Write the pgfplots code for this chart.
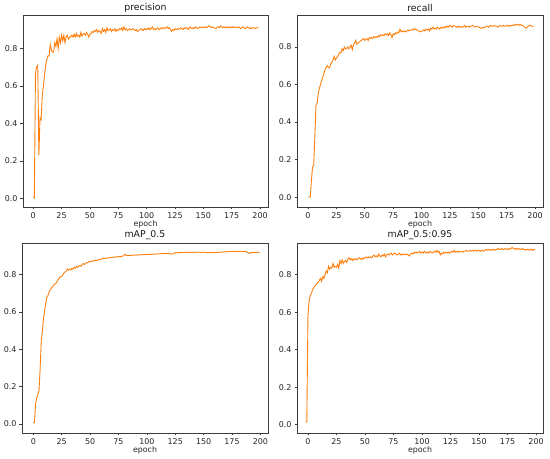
\documentclass[border=0pt]{standalone}
\usepackage{fontspec}
\setmainfont{DejaVu Sans}
\usepackage{pgfplots}
\usepackage{pgfplotstable}
\pgfplotsset{compat=1.18}
\definecolor{mplorange}{RGB}{255,127,14}
\definecolor{spine}{RGB}{60,60,60}

\pgfplotstableread[row sep=\\]{y\\
0.004\\0.003\\0.67\\0.70\\0.71\\0.23\\0.43\\0.42\\0.55\\0.60\\
0.66\\0.71\\0.74\\0.76\\0.76\\0.82\\0.79\\0.78\\0.78\\0.83\\
0.81\\0.85\\0.80\\0.86\\0.83\\0.87\\0.84\\0.87\\0.83\\0.86\\
0.87\\0.85\\0.86\\0.86\\0.87\\0.86\\0.875\\0.86\\0.88\\0.865\\
0.87\\0.86\\0.885\\0.865\\0.875\\0.88\\0.87\\0.885\\0.875\\0.86\\
0.875\\0.88\\0.89\\0.885\\0.895\\0.89\\0.90\\0.885\\0.895\\0.89\\
0.88\\0.905\\0.89\\0.90\\0.885\\0.91\\0.895\\0.90\\0.905\\0.89\\
0.90\\0.895\\0.905\\0.89\\0.90\\0.895\\0.905\\0.90\\0.91\\0.895\\
0.915\\0.90\\0.905\\0.895\\0.90\\0.905\\0.90\\0.90\\0.905\\0.90\\
0.895\\0.90\\0.89\\0.895\\0.90\\0.905\\0.90\\0.895\\0.905\\0.90\\
0.905\\0.90\\0.91\\0.90\\0.905\\0.915\\0.90\\0.905\\0.90\\0.905\\
0.91\\0.90\\0.905\\0.91\\0.905\\0.91\\0.905\\0.91\\0.915\\0.905\\
0.91\\0.90\\0.89\\0.90\\0.895\\0.905\\0.90\\0.905\\0.90\\0.905\\
0.91\\0.905\\0.90\\0.91\\0.905\\0.91\\0.905\\0.90\\0.915\\0.91\\
0.905\\0.91\\0.905\\0.915\\0.91\\0.905\\0.91\\0.915\\0.91\\0.91\\
0.915\\0.91\\0.915\\0.91\\0.915\\0.92\\0.915\\0.91\\0.915\\0.91\\
0.91\\0.905\\0.91\\0.915\\0.91\\0.92\\0.915\\0.91\\0.915\\0.91\\
0.915\\0.91\\0.915\\0.91\\0.915\\0.91\\0.915\\0.91\\0.915\\0.91\\
0.91\\0.915\\0.91\\0.905\\0.91\\0.915\\0.91\\0.905\\0.91\\0.915\\
0.91\\0.905\\0.91\\0.905\\0.91\\0.91\\0.905\\0.91\\0.91\\0.91\\
}\precisiontab

\pgfplotstableread[row sep=\\]{y\\
0.0\\0.0\\0.002\\0.09\\0.16\\0.17\\0.32\\0.49\\0.50\\0.55\\
0.58\\0.60\\0.62\\0.64\\0.66\\0.68\\0.69\\0.70\\0.69\\0.69\\
0.71\\0.72\\0.73\\0.75\\0.73\\0.74\\0.75\\0.76\\0.77\\0.77\\
0.79\\0.78\\0.80\\0.79\\0.79\\0.80\\0.79\\0.80\\0.81\\0.785\\
0.81\\0.82\\0.835\\0.815\\0.82\\0.825\\0.83\\0.835\\0.84\\0.845\\
0.835\\0.84\\0.845\\0.835\\0.85\\0.845\\0.85\\0.845\\0.855\\0.85\\
0.855\\0.85\\0.86\\0.855\\0.865\\0.86\\0.865\\0.86\\0.87\\0.865\\
0.87\\0.86\\0.875\\0.865\\0.85\\0.87\\0.865\\0.875\\0.87\\0.88\\
0.875\\0.895\\0.88\\0.885\\0.88\\0.885\\0.88\\0.885\\0.89\\0.885\\
0.89\\0.89\\0.895\\0.89\\0.895\\0.895\\0.89\\0.885\\0.885\\0.88\\
0.885\\0.885\\0.89\\0.885\\0.895\\0.89\\0.895\\0.885\\0.90\\0.895\\
0.905\\0.895\\0.90\\0.895\\0.905\\0.90\\0.895\\0.905\\0.90\\0.905\\
0.90\\0.91\\0.905\\0.91\\0.905\\0.915\\0.91\\0.905\\0.915\\0.91\\
0.91\\0.905\\0.91\\0.905\\0.91\\0.905\\0.905\\0.91\\0.915\\0.905\\
0.91\\0.91\\0.905\\0.91\\0.91\\0.915\\0.91\\0.905\\0.91\\0.91\\
0.905\\0.905\\0.90\\0.90\\0.905\\0.90\\0.905\\0.91\\0.91\\0.905\\
0.91\\0.915\\0.91\\0.91\\0.915\\0.91\\0.91\\0.905\\0.91\\0.915\\
0.91\\0.91\\0.915\\0.91\\0.91\\0.915\\0.91\\0.915\\0.91\\0.915\\
0.915\\0.915\\0.92\\0.915\\0.92\\0.92\\0.915\\0.92\\0.915\\0.915\\
0.91\\0.905\\0.90\\0.905\\0.91\\0.915\\0.915\\0.91\\0.91\\0.91\\
}\recalltab

\pgfplotstableread[row sep=\\]{y\\
0.005\\0.01\\0.11\\0.14\\0.16\\0.18\\0.30\\0.45\\0.50\\0.57\\
0.61\\0.65\\0.68\\0.69\\0.71\\0.72\\0.73\\0.735\\0.745\\0.75\\
0.755\\0.765\\0.775\\0.785\\0.79\\0.79\\0.80\\0.81\\0.815\\0.82\\
0.83\\0.825\\0.83\\0.825\\0.835\\0.83\\0.84\\0.835\\0.845\\0.84\\
0.845\\0.85\\0.845\\0.855\\0.86\\0.855\\0.86\\0.865\\0.865\\0.87\\
0.87\\0.872\\0.875\\0.872\\0.875\\0.878\\0.875\\0.88\\0.882\\0.88\\
0.885\\0.885\\0.888\\0.886\\0.89\\0.889\\0.891\\0.89\\0.893\\0.892\\
0.894\\0.895\\0.893\\0.896\\0.897\\0.895\\0.898\\0.897\\0.899\\0.90\\
0.905\\0.91\\0.902\\0.903\\0.902\\0.904\\0.903\\0.905\\0.904\\0.905\\
0.906\\0.905\\0.906\\0.907\\0.906\\0.907\\0.908\\0.907\\0.908\\0.909\\
0.908\\0.909\\0.908\\0.91\\0.909\\0.91\\0.911\\0.91\\0.911\\0.912\\
0.911\\0.912\\0.913\\0.912\\0.913\\0.913\\0.914\\0.913\\0.914\\0.915\\
0.913\\0.912\\0.91\\0.912\\0.915\\0.918\\0.917\\0.918\\0.919\\0.918\\
0.919\\0.92\\0.919\\0.92\\0.919\\0.92\\0.921\\0.92\\0.919\\0.92\\
0.921\\0.92\\0.919\\0.92\\0.921\\0.92\\0.921\\0.92\\0.919\\0.92\\
0.921\\0.92\\0.919\\0.918\\0.919\\0.918\\0.919\\0.92\\0.919\\0.918\\
0.919\\0.92\\0.919\\0.92\\0.921\\0.92\\0.921\\0.922\\0.923\\0.922\\
0.923\\0.924\\0.923\\0.924\\0.925\\0.924\\0.925\\0.924\\0.925\\0.924\\
0.925\\0.924\\0.925\\0.926\\0.925\\0.924\\0.925\\0.924\\0.922\\0.918\\
0.914\\0.917\\0.919\\0.918\\0.92\\0.919\\0.92\\0.919\\0.92\\0.92\\
}\mapfivetab

\pgfplotstableread[row sep=\\]{y\\
0.015\\0.015\\
0.58\\0.66\\0.69\\0.70\\0.72\\0.73\\0.74\\0.745\\0.755\\0.76\\
0.77\\0.78\\0.765\\0.79\\0.78\\0.80\\0.82\\0.81\\0.845\\0.83\\
0.84\\0.835\\0.86\\0.84\\0.845\\0.84\\0.855\\0.835\\0.875\\0.86\\
0.88\\0.86\\0.87\\0.875\\0.865\\0.885\\0.89\\0.88\\0.885\\0.875\\
0.885\\0.88\\0.885\\0.88\\0.885\\0.89\\0.885\\0.88\\0.89\\0.885\\
0.89\\0.895\\0.89\\0.895\\0.89\\0.895\\0.89\\0.90\\0.905\\0.895\\
0.90\\0.895\\0.91\\0.90\\0.895\\0.905\\0.90\\0.91\\0.895\\0.905\\
0.91\\0.905\\0.91\\0.915\\0.905\\0.91\\0.915\\0.91\\0.905\\0.91\\
0.915\\0.905\\0.91\\0.905\\0.91\\0.91\\0.905\\0.91\\0.905\\0.90\\
0.91\\0.915\\0.91\\0.92\\0.915\\0.92\\0.915\\0.92\\0.925\\0.915\\
0.92\\0.915\\0.925\\0.92\\0.915\\0.92\\0.915\\0.925\\0.92\\0.915\\
0.92\\0.925\\0.92\\0.93\\0.92\\0.925\\0.905\\0.915\\0.91\\0.92\\
0.915\\0.92\\0.915\\0.92\\0.915\\0.92\\0.925\\0.92\\0.93\\0.92\\
0.925\\0.92\\0.925\\0.92\\0.925\\0.925\\0.92\\0.925\\0.925\\0.93\\
0.925\\0.925\\0.93\\0.925\\0.93\\0.925\\0.93\\0.93\\0.925\\0.93\\
0.93\\0.925\\0.93\\0.93\\0.925\\0.93\\0.935\\0.93\\0.935\\0.93\\
0.935\\0.93\\0.935\\0.935\\0.93\\0.935\\0.935\\0.94\\0.935\\0.935\\
0.94\\0.935\\0.935\\0.94\\0.935\\0.935\\0.94\\0.935\\0.94\\0.945\\
0.94\\0.94\\0.935\\0.94\\0.935\\0.94\\0.935\\0.935\\0.94\\0.935\\
0.935\\0.93\\0.935\\0.935\\0.93\\0.935\\0.935\\0.93\\0.935\\0.935\\
}\mapninetab

\pgfplotsset{
  panel/.style={
    scale only axis,
    anchor=south west,
    axis line style={spine, line width=0.8bp},
    tick style={spine, line width=0.7bp},
    tick align=outside,
    major tick length=2.5bp,
    xtick pos=left, ytick pos=left,
    minor tick num=0,
    xtick={0,25,50,75,100,125,150,175,200},
    ytick={0,0.2,0.4,0.6,0.8},
    yticklabel style={/pgf/number format/fixed, /pgf/number format/fixed zerofill, /pgf/number format/precision=1},
    /pgf/number format/assume math mode=true,
    ticklabel style={font=\fontsize{8}{9}\selectfont, text=black!85},
    xticklabel style={yshift=0.5bp},
    yticklabel style={xshift=0.5bp},
    xlabel={epoch},
    xlabel style={font=\fontsize{7.9}{9}\selectfont, text=black!85, yshift=5bp},
    title style={font=\fontsize{9.4}{10}\selectfont, text=black!90, yshift=-6.5bp},
    cycle list={{mplorange, line width=0.9bp, mark=none}},
  }
}

\begin{document}
\begin{tikzpicture}[x=1bp,y=1bp]
\path[use as bounding box] (0,0) rectangle (550,459);

\begin{axis}[panel, at={(23bp,252bp)}, width=245bp, height=192bp,
  xmin=-9, xmax=207, ymin=-0.046, ymax=0.978, title={precision}]
\addplot[mplorange, line width=0.9bp] table[x expr=\coordindex, y=y] {\precisiontab};
\end{axis}

\begin{axis}[panel, at={(297bp,252bp)}, width=246bp, height=192bp,
  xmin=-9.7, xmax=207, ymin=-0.052, ymax=0.97, title={recall}]
\addplot[mplorange, line width=0.9bp] table[x expr=\coordindex, y=y] {\recalltab};
\end{axis}

\begin{axis}[panel, at={(22bp,26bp)}, width=246bp, height=190bp,
  xmin=-10, xmax=206.7, ymin=-0.048, ymax=0.97, title={mAP\_0.5}]
\addplot[mplorange, line width=0.9bp] table[x expr=\coordindex, y=y] {\mapfivetab};
\end{axis}

\begin{axis}[panel, at={(297bp,26bp)}, width=246bp, height=190bp,
  xmin=-9.6, xmax=206.1, ymin=-0.044, ymax=0.969, title={mAP\_0.5:0.95}]
\addplot[mplorange, line width=0.9bp] table[x expr=\coordindex-2, y=y] {\mapninetab};
\end{axis}

\end{tikzpicture}
\end{document}
